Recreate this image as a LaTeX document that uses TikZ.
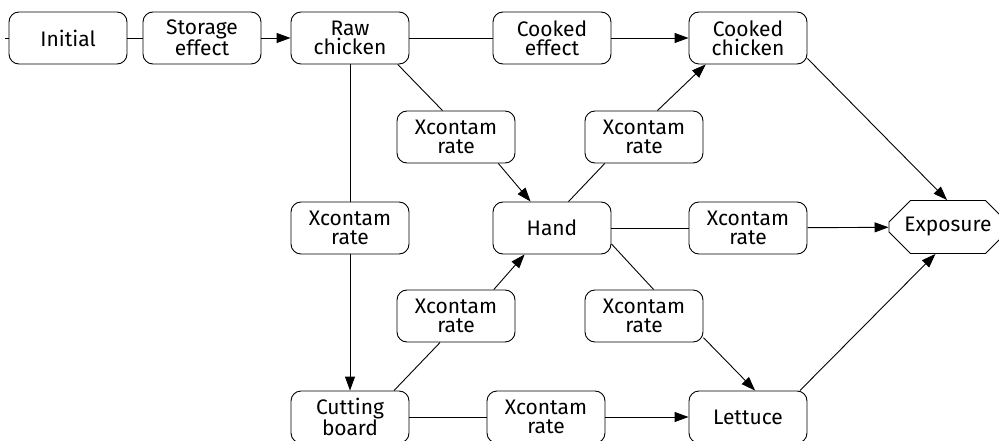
\documentclass[tikz,border=0pt]{standalone}
\usepackage{fontspec}
\setmainfont{Fira Sans}[Ligatures=NoCommon]
\usetikzlibrary{arrows.meta,shapes.misc}
\begin{document}
\begin{tikzpicture}[x=1pt,y=-1pt,
  lbl/.style={font=\fontsize{21}{19}\selectfont,align=center,inner sep=0pt,line width=0.9pt},
  box/.style={lbl,draw,rounded corners=10pt,minimum width=118pt,minimum height=52pt},
  expo/.style={lbl,draw,chamfered rectangle,chamfered rectangle xsep=13pt,chamfered rectangle ysep=12pt,minimum width=118pt,minimum height=53pt},
  link/.style={line width=0.9pt},
  arr/.style={link,-{Triangle[length=14pt,width=10pt]}}]
\useasboundingbox (0,0) rectangle (999,441);
% top row
\coordinate (src) at (5,38);
\node[box] (initial) at (68,38) {Initial};
\node[box] (storage) at (202,38) {Storage\\effect};
\node[box] (raw) at (350,38) {Raw\\chicken};
\node[box] (ceff) at (552,38) {Cooked\\effect};
\node[box] (cooked) at (748,38) {Cooked\\chicken};
% second row
\node[box] (xcU) at (456,137) {Xcontam\\rate};
\node[box] (xcUR) at (644,137) {Xcontam\\rate};
% middle row
\node[box] (xcL) at (350,228) {Xcontam\\rate};
\node[box] (hand) at (552,228) {Hand};
\node[box] (xcMR) at (748,228) {Xcontam\\rate};
\node[expo] (expo) at (948,227) {Exposure};
% fourth row
\node[box] (xcLow) at (456,316) {Xcontam\\rate};
\node[box] (xcLR) at (644,316) {Xcontam\\rate};
% bottom row
\node[box] (cut) at (350,417) {Cutting\\board};
\node[box] (xcB) at (546,417) {Xcontam\\rate};
\node[box] (lettuce) at (748,417) {Lettuce};
% connectors
\draw[link] (src) -- (initial.west);
\draw[link] (initial) -- (storage);
\draw[arr] (storage) -- (raw);
\draw[link] (raw) -- (ceff);
\draw[arr] (ceff) -- (cooked);
\draw[link] (raw.-29) -- (xcU.117);
\draw[arr] (xcU.-32) -- (hand.129);
\draw[link] (hand.58) -- (xcUR.214);
\draw[arr] (xcUR.63) -- (cooked.212);
\draw[link] (raw) -- (xcL);
\draw[arr] (xcL) -- (cut);
\draw[link] (cut.31) -- (xcLow.239);
\draw[arr] (xcLow.35) -- (hand.224);
\draw[link] (hand.-15) -- (xcLR.70);
\draw[arr] (xcLR.-20) -- (lettuce.75);
\draw[link] (cut) -- (xcB);
\draw[arr] (xcB) -- (lettuce);
\draw[link] (hand) -- (xcMR);
\draw[arr] (xcMR) -- (expo);
\draw[arr] (cooked.-19) -- (expo.92);
\draw[arr] (lettuce.27) -- (expo.245);
\end{tikzpicture}
\end{document}
